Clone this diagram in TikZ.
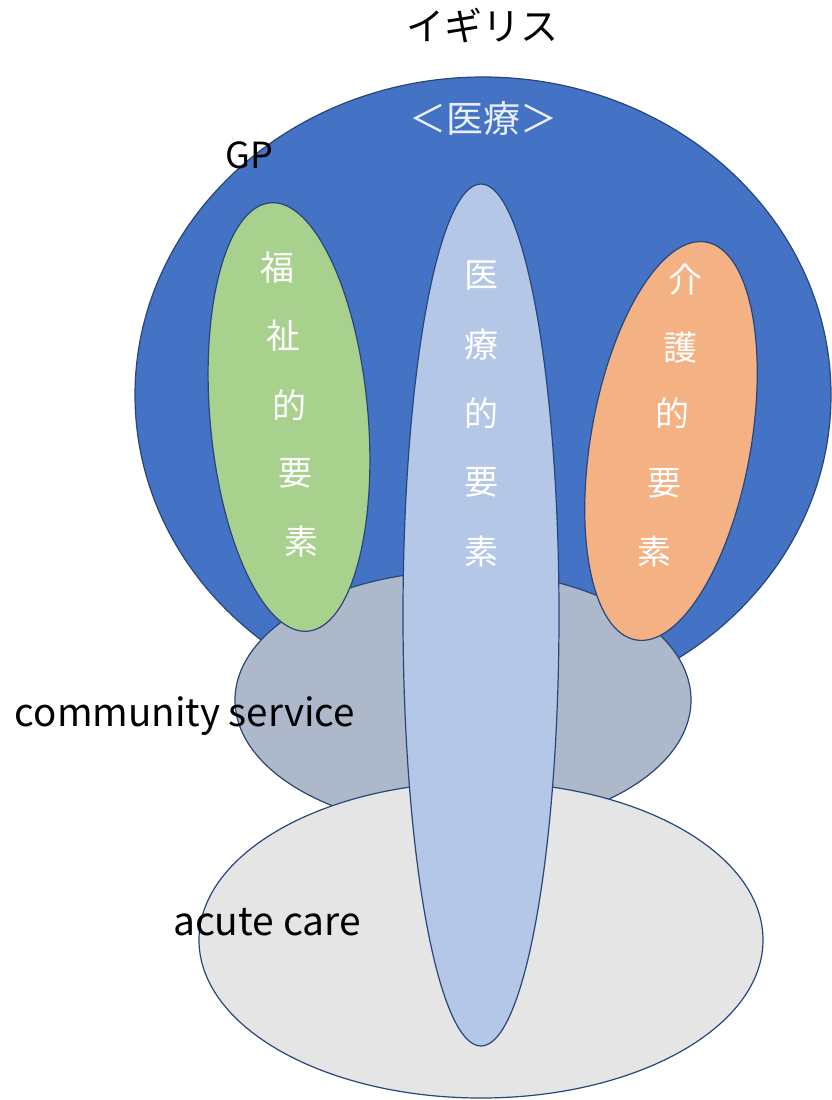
\documentclass[tikz,border=0pt]{standalone}
\usepackage{fontspec}
\setmainfont{Noto Sans CJK JP}
\usetikzlibrary{shapes.geometric}
\definecolor{gpblue}{HTML}{4472C4}
\definecolor{edgeblue}{HTML}{2F528F}
\definecolor{welfgreen}{HTML}{A9D18E}
\definecolor{careorange}{HTML}{F4B183}
\definecolor{medblue}{HTML}{B4C7E7}
\definecolor{commgrey}{HTML}{ADB9CA}
\definecolor{acutegrey}{HTML}{E5E5E5}
\begin{document}
\begin{tikzpicture}[x=1pt,y=-1pt]
    \useasboundingbox (0,0) rectangle (831,1100);
    \begin{scope}[every node/.style={ellipse, draw=edgeblue!85!black, line width=1.2pt, inner sep=0pt}]
        \node[fill=gpblue, minimum width=696pt, minimum height=636pt] (gp) at (483, 395) {};
        \node[fill=commgrey, minimum width=456pt, minimum height=258pt] (comm) at (463, 700) {};
        \node[fill=acutegrey, minimum width=564pt, minimum height=316pt] (acute) at (481, 940) {};
        \node[fill=welfgreen, minimum width=158pt, minimum height=430pt, rotate=5] (welf) at (289, 417) {};
        \node[fill=careorange, minimum width=160pt, minimum height=404pt, rotate=-10] (care) at (671, 441) {};
        \node[fill=medblue, minimum width=156pt, minimum height=862pt] (med) at (481, 615) {};
    \end{scope}
    \tikzset{label text/.style={font=\fontsize{34}{40}\selectfont, inner sep=0pt}}

    \node[label text, font=\fontsize{38}{40}\selectfont] (uk) at (482, 26) {イギリス};
    \node[label text, font=\fontsize{37}{40}\selectfont, text=white!88!gpblue] (iryo) at (483, 118) {＜医療＞};
    \node[label text, font=\fontsize{36}{40}\selectfont] (gplabel) at (249, 155) {GP};
    \node[label text, font=\fontsize{38.5}{40}\selectfont] (commlabel) at (185, 716) {community service};
    \node[label text, font=\fontsize{39}{40}\selectfont] (acutelabel) at (267, 922) {acute care};

    % vertical texts
    \foreach \c/\x/\y in {福/277/268, 祉/283/336, 的/289/405, 要/295/473, 素/301/542}
        \node[label text, text=white] at (\x, \y) {\c};
    \foreach \c/\x/\y in {医/481/275, 療/481/345, 的/481/413, 要/481/482, 素/481/552}
        \node[label text, text=white] at (\x, \y) {\c};
    \foreach \c/\x/\y in {介/685/280, 護/680/348, 的/672/413, 要/664/483, 素/654/552}
        \node[label text, text=white] at (\x, \y) {\c};
\end{tikzpicture}
\end{document}
